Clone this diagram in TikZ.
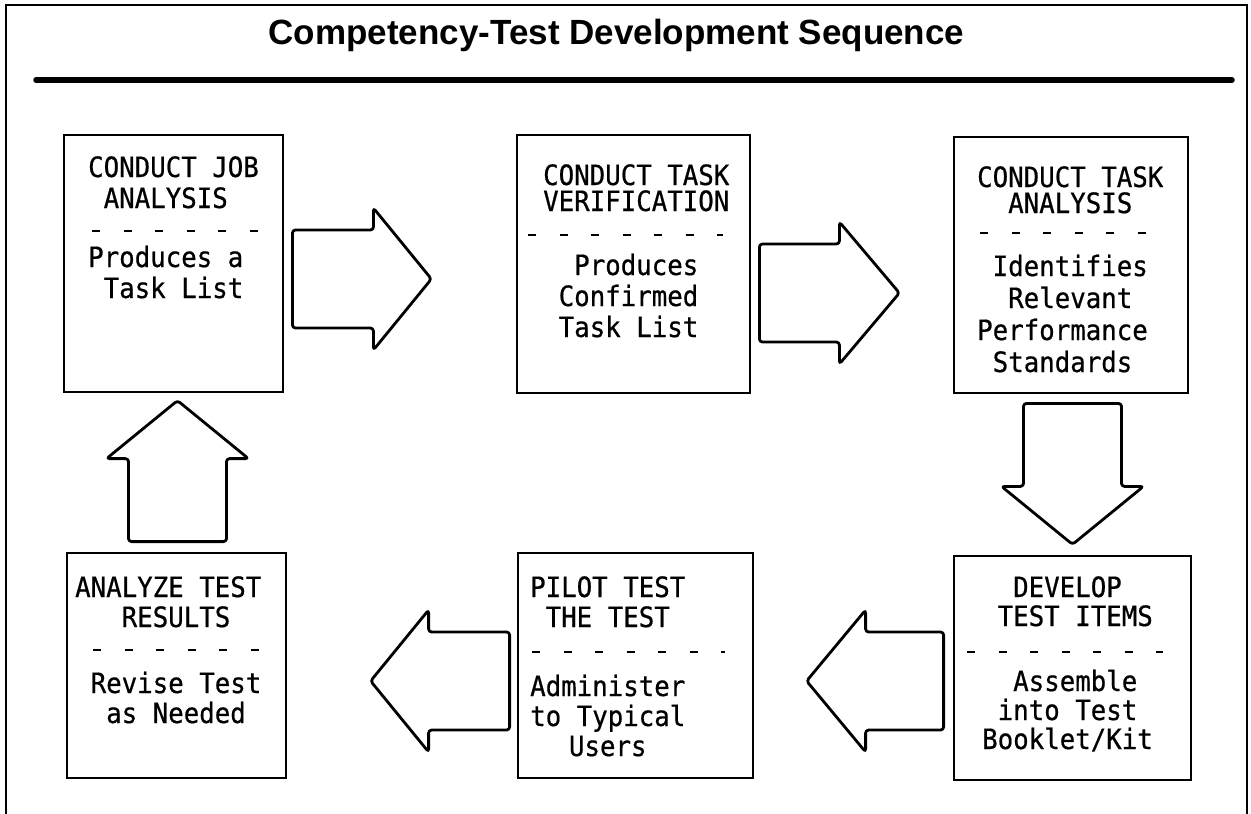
\documentclass[tikz,border=0pt]{standalone}
\usepackage{fontspec}
\usetikzlibrary{calc}
\setmainfont{Liberation Sans}
\newfontfamily\titlefont{Liberation Sans}
\newfontfamily\cardfont[FakeStretch=0.92, FakeBold=0.6]{DejaVu Sans Mono}

% lines of a card, left aligned, first baseline at the node's base
\newcommand\cardlines[2]{\parbox[t]{260pt}{\raggedright\lineskiplimit=-100pt\cardfont\fontsize{28}{#1}\selectfont #2}}
% indent by a number of typewriter characters
\newcommand\ind[1]{\hspace*{#1\fontcharwd\font`X}}
% hollow block arrow: #1 tail point, #2 direction, #3 shaft length, #4 head length
\newcommand\blockarrow[4]{%
  \draw[bigarrow, shift={#1}, rotate=#2]
    (0,-49) -- (#3,-49) -- (#3,-71) -- ({#3+#4},0) -- (#3,71) -- (#3,49) -- (0,49) -- cycle;}

\tikzset{
  card/.style={draw, line width=2.8pt, rectangle, inner sep=0pt},
  cardtext/.style={anchor=base west, inner sep=0pt},
  bigarrow/.style={draw, line width=2.8pt, rounded corners=3pt, line join=round},
  sepline/.style={line width=2.8pt, dash pattern=on 8pt off 23.5pt},
}

\begin{document}
\begin{tikzpicture}[x=1pt, y=-1pt]
\useasboundingbox (0,0) rectangle (1251,814);

% outer frame and heading
\draw[line width=2.5pt] (6,814) -- (6,5) -- (1247,5) -- (1247,814);
\node[anchor=base, inner sep=0pt, font=\titlefont\bfseries\fontsize{35}{40}\selectfont]
  (title) at (616.5,44) {Competency-Test Development Sequence};
\draw[line width=5.5pt, line cap=round] (36,80) -- (1232,80);

% cards
\node[card, minimum width=219pt, minimum height=257pt] (b1) at (173.5,263.5) {};
\node[card, minimum width=233pt, minimum height=258pt] (b2) at (633.5,264) {};
\node[card, minimum width=234pt, minimum height=256pt] (b3) at (1071,265) {};
\node[card, minimum width=237pt, minimum height=224pt] (b4) at (1072.5,668) {};
\node[card, minimum width=235pt, minimum height=225pt] (b5) at (635.5,665.5) {};
\node[card, minimum width=219pt, minimum height=225pt] (b6) at (176.5,665.5) {};

% card texts
\node[cardtext] (t1) at (88,177) {\cardlines{31}{CONDUCT JOB\\\ind{1}ANALYSIS\\[28pt]Produces a\\\ind{1}Task List}};
\node[cardtext] (t2) at (543,185) {\cardlines{26}{CONDUCT TASK\\VERIFICATION\\[38pt]\ind{2}Produces\\[5pt]\ind{1}Confirmed\\[5pt]\ind{1}Task List}};
\node[cardtext] (t3) at (977,187) {\cardlines{26}{CONDUCT TASK\\\ind{2}ANALYSIS\\[37pt]\ind{1}Identifies\\[6pt]\ind{2}Relevant\\[6pt]Performance\\[6pt]\ind{1}Standards}};
\node[cardtext] (t4) at (982,597) {\cardlines{29}{\ind{2}DEVELOP\\\ind{1}TEST ITEMS\\[36pt]\ind{2}Assemble\\\ind{1}into Test\\Booklet/Kit}};
\node[cardtext] (t5) at (530,597) {\cardlines{30}{PILOT TEST\\\ind{1}THE TEST\\[39pt]Administer\\to Typical\\\ind{2.5}Users}};
\node[cardtext] (t6) at (75,597) {\cardlines{30}{ANALYZE TEST\\\ind{3}RESULTS\\[36pt]\ind{1}Revise Test\\\ind{2}as Needed}};

% typed dash rows between heading and description
\draw[sepline] (92,231) -- (258,231);
\draw[sepline] (528,235) -- (723,235);
\draw[sepline] (980,233) -- (1148,233);
\draw[sepline] (967,652) -- (1163,652);
\draw[sepline] (532,652) -- (725,652);
\draw[sepline] (93,650) -- (260,650);

% block arrows between the cards
\blockarrow{($(b1.east)+(8,15.5)$)}{0}{81}{58}
\blockarrow{($(b2.east)+(8,29)$)}{0}{80}{60}
\blockarrow{($(b3.south)+(1.5,9)$)}{-90}{83}{58}
\blockarrow{($(b4.west)+(-9,13)$)}{180}{78}{59}
\blockarrow{($(b5.west)+(-7,15.5)$)}{180}{81}{58}
\blockarrow{($(b6.north)+(1,-10)$)}{90}{83}{58}
\end{tikzpicture}
\end{document}
